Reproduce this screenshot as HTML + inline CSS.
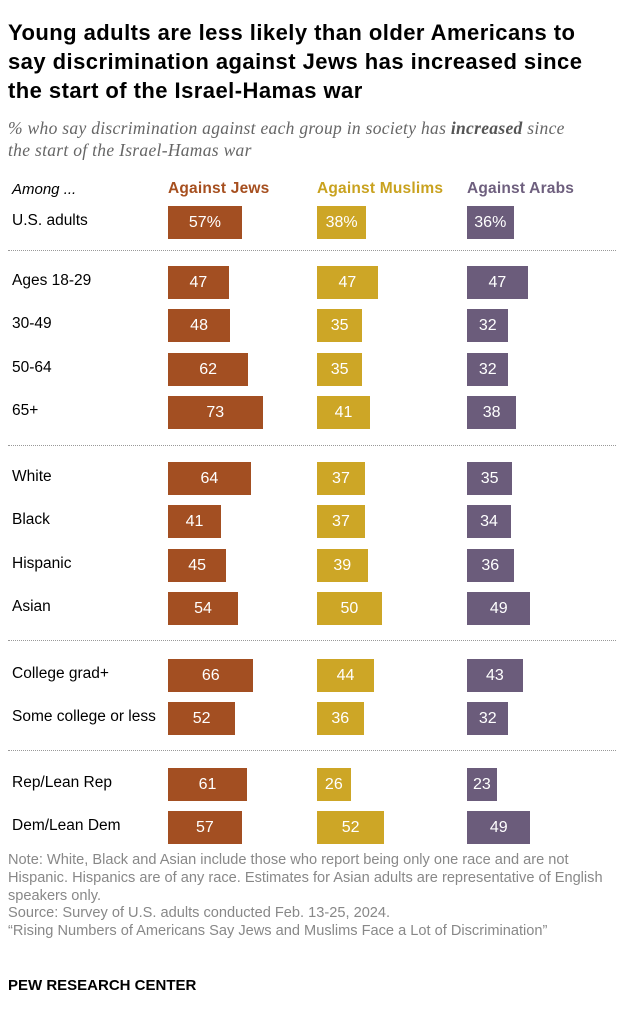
<!DOCTYPE html>
<html><head><meta charset="utf-8">
<style>
body{margin:0;width:624px;height:1023px;background:#fff;font-family:"Liberation Sans Narrow","Liberation Sans",sans-serif;position:relative;overflow:hidden}
.t{position:absolute;white-space:nowrap}
#title{left:8px;top:18px;font-family:"Liberation Sans",sans-serif;font-weight:bold;font-size:22px;letter-spacing:0.45px;line-height:29px;color:#000}
#sub{left:8px;top:117px;font-family:"Liberation Serif",serif;font-style:italic;font-size:17.5px;letter-spacing:0.3px;line-height:22px;color:#666}
.hdr{font-weight:bold;font-size:15.5px;top:180px;letter-spacing:0.2px}
.lab{font-size:15.5px;color:#000;left:12px}
.bar{position:absolute;height:33px;color:#fff;font-size:16px;text-align:center;line-height:33px}
.sep{position:absolute;left:8px;width:608px;border-top:1.5px dotted #999;height:0}
#note{left:8px;top:852px;font-size:14.6px;line-height:17.8px;color:#888}
</style></head><body>
<div id="title" class="t">Young adults are less likely than older Americans to<br>say discrimination against Jews has increased since<br>the start of the Israel-Hamas war</div>
<div id="sub" class="t">% who say discrimination against each group in society has <b style="color:#555">increased</b> since<br>the start of the Israel-Hamas war</div>
<div class="t" style="left:12px;top:181px;font-size:15px;font-style:italic">Among ...</div>
<div class="t hdr" style="left:168px;color:#a64f1f">Against Jews</div>
<div class="t hdr" style="left:317px;color:#c9a21f">Against Muslims</div>
<div class="t hdr" style="left:467px;color:#6e5f7e">Against Arabs</div>
<div id="chart"></div>
<div id="note" class="t">Note: White, Black and Asian include those who report being only one race and are not<br>Hispanic. Hispanics are of any race. Estimates for Asian adults are representative of English<br>speakers only.<br>Source: Survey of U.S. adults conducted Feb. 13-25, 2024.<br>“Rising Numbers of Americans Say Jews and Muslims Face a Lot of Discrimination”</div>
<div class="t" style="left:8px;top:977px;font-weight:bold;font-size:15px;color:#000">PEW RESEARCH CENTER</div>
<script>
const categories=["U.S. adults","Ages 18-29","30-49","50-64","65+","White","Black","Hispanic","Asian","College grad+","Some college or less","Rep/Lean Rep","Dem/Lean Dem"];
const jews=[57,47,48,62,73,64,41,45,54,66,52,61,57];
const muslims=[38,47,35,35,41,37,37,39,50,44,36,26,52];
const arabs=[36,47,32,32,38,35,34,36,49,43,32,23,49];
const rowCenters=[222,282,325,369,412,478,521,565,608,675,718,784,827];
const separators=[250,445,640,750];
const scale=v=>v*1.295;
const cols=[{x:168,c:"#a34f22",d:jews,n:"jews"},{x:317,c:"#cda626",d:muslims,n:"muslims"},{x:467,c:"#6b5c7b",d:arabs,n:"arabs"}];
const chart=document.getElementById('chart');
categories.forEach((cat,i)=>{
  const y=rowCenters[i];
  const l=document.createElement('div');
  l.className='t lab';l.style.top=(y-10)+'px';l.textContent=cat;
  
  
  chart.appendChild(l);
  cols.forEach(c=>{
    const b=document.createElement('div');
    b.className='bar';b.style.left=c.x+'px';b.style.top=(y-16.5)+'px';
    b.style.width=scale(c.d[i])+'px';b.style.background=c.c;
    b.textContent=c.d[i]+(i===0?'%':'');
    
    
    chart.appendChild(b);
  });
});
separators.forEach(y=>{
  const s=document.createElement('div');
  s.className='sep';s.style.top=y+'px';
  
  
  chart.appendChild(s);
});
</script>
</body></html>
